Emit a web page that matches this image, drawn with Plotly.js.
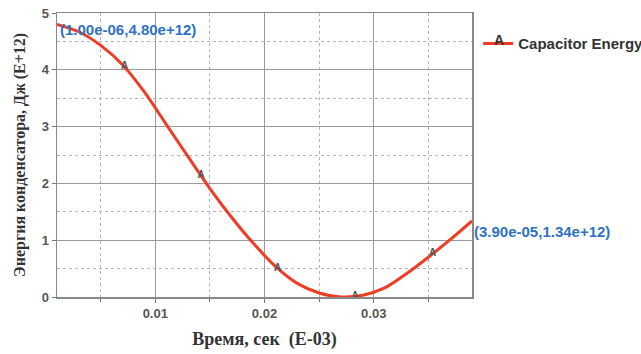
<!DOCTYPE html>
<html>
<head>
<meta charset="utf-8">
<script src="https://cdn.plot.ly/plotly-3.0.1.min.js"></script>
<style>html,body{margin:0;padding:0;background:#fff;}#chart{width:641px;height:354px;}</style>
</head>
<body>
<div id="chart"></div>
<script>
// Time in units of E-03 s, energy in units of E+12 J
const timeVals = [0.001, 0.003, 0.005, 0.007, 0.009, 0.011, 0.013, 0.015, 0.017, 0.019, 0.021, 0.023, 0.025, 0.027, 0.029, 0.031, 0.033, 0.035, 0.037, 0.039];
const energyVals = [4.80, 4.67, 4.43, 4.09, 3.61, 3.04, 2.47, 1.91, 1.40, 0.94, 0.54, 0.24, 0.07, 0.00, 0.03, 0.16, 0.41, 0.70, 1.01, 1.34];
const markerTime = [0.0072, 0.0142, 0.0212, 0.0283, 0.0354];
const markerEnergy = [4.05, 2.14, 0.51, 0.01, 0.76];
const xTickVals = [0.01, 0.02, 0.03];
const xTickText = ['0.01', '0.02', '0.03'];
const yTickVals = [0, 1, 2, 3, 4, 5];
const yTickText = ['0', '1', '2', '3', '4', '5'];
const seriesName = 'Capacitor Energy';

function fmtExp(v) {
  let s = v.toExponential(2);
  return s.replace(/e([+-])(\d)$/, 'e$10$2');
}
const n = timeVals.length;
const firstLabel = '(' + fmtExp(timeVals[0] * 1e-3) + ',' + fmtExp(energyVals[0] * 1e12) + ')';
const lastLabel = '(' + fmtExp(timeVals[n - 1] * 1e-3) + ',' + fmtExp(energyVals[n - 1] * 1e12) + ')';

const red = '#f03c24';
const sans = 'Arial, Liberation Sans, sans-serif';
const serif = 'Liberation Serif, Times New Roman, serif';
const tickFont = {family: sans, size: 13, color: '#555', weight: 'bold'};
const labelFont = {family: sans, size: 15, color: '#2f72c0', weight: 'bold'};

const data = [
  {x: timeVals, y: energyVals, type: 'scatter', mode: 'lines', line: {color: red, width: 3, shape: 'spline', smoothing: 0.8}, name: seriesName, showlegend: true},
  {x: markerTime, y: markerEnergy, type: 'scatter', mode: 'text', text: markerTime.map(() => 'A'), textposition: 'middle center',
   textfont: {family: sans, size: 10, color: '#555', weight: 'bold'}, showlegend: false, hoverinfo: 'skip', cliponaxis: false}
];

const layout = {
  width: 641, height: 354,
  margin: {l: 57, r: 169, t: 13, b: 57, autoexpand: false},
  paper_bgcolor: '#fff', plot_bgcolor: '#fff',
  showlegend: true,
  legend: {x: 1.015, y: 0.95, xanchor: 'left', yanchor: 'top', bgcolor: 'rgba(0,0,0,0)',
           font: {family: sans, size: 15, color: '#333', weight: 'bold'}, itemwidth: 30},
  xaxis: {
    range: [0.001, 0.039], tickvals: xTickVals, ticktext: xTickText, tickfont: tickFont,
    showgrid: true, gridcolor: '#9a9a9a', gridwidth: 1,
    minor: {dtick: 0.005, tick0: 0, showgrid: true, gridcolor: '#b5b5b5', griddash: 'dot', ticks: 'outside', ticklen: 3, tickcolor: '#777'},
    showline: true, linecolor: '#888', linewidth: 1.5, mirror: true, zeroline: false,
    ticks: 'outside', ticklen: 4, tickcolor: '#777', automargin: false,
    title: {text: 'Время, сек  (E-03)', font: {family: serif, size: 18, color: '#333', weight: 'bold'}, standoff: 12}
  },
  yaxis: {
    range: [0, 5], tickvals: yTickVals, ticktext: yTickText, tickfont: tickFont,
    showgrid: true, gridcolor: '#9a9a9a', gridwidth: 1,
    minor: {dtick: 0.5, tick0: 0, showgrid: true, gridcolor: '#b5b5b5', griddash: 'dot'},
    showline: true, linecolor: '#888', linewidth: 1.5, mirror: true, zeroline: false,
    ticks: 'outside', ticklen: 4, tickcolor: '#777', automargin: false,
    title: {text: 'Энергия конденсатора, Дж (E+12)', font: {family: serif, size: 16, color: '#333', weight: 'bold'}, standoff: 12}
  },
  annotations: [
    {x: timeVals[0], y: energyVals[0], xref: 'x', yref: 'y', text: firstLabel, showarrow: false, xanchor: 'left', yanchor: 'middle', xshift: 1, yshift: -5, font: labelFont},
    {x: timeVals[n - 1], y: energyVals[n - 1], xref: 'x', yref: 'y', text: lastLabel, showarrow: false, xanchor: 'left', yanchor: 'middle', xshift: 0, yshift: -11, font: labelFont},
    {x: 1.065, y: 0.905, xref: 'paper', yref: 'paper', text: 'A', showarrow: false, xanchor: 'center', yanchor: 'middle', font: {family: sans, size: 14, color: '#333', weight: 'bold'}}
  ]
};

Plotly.newPlot('chart', data, layout, {displayModeBar: false, staticPlot: true});
</script>
</body>
</html>
